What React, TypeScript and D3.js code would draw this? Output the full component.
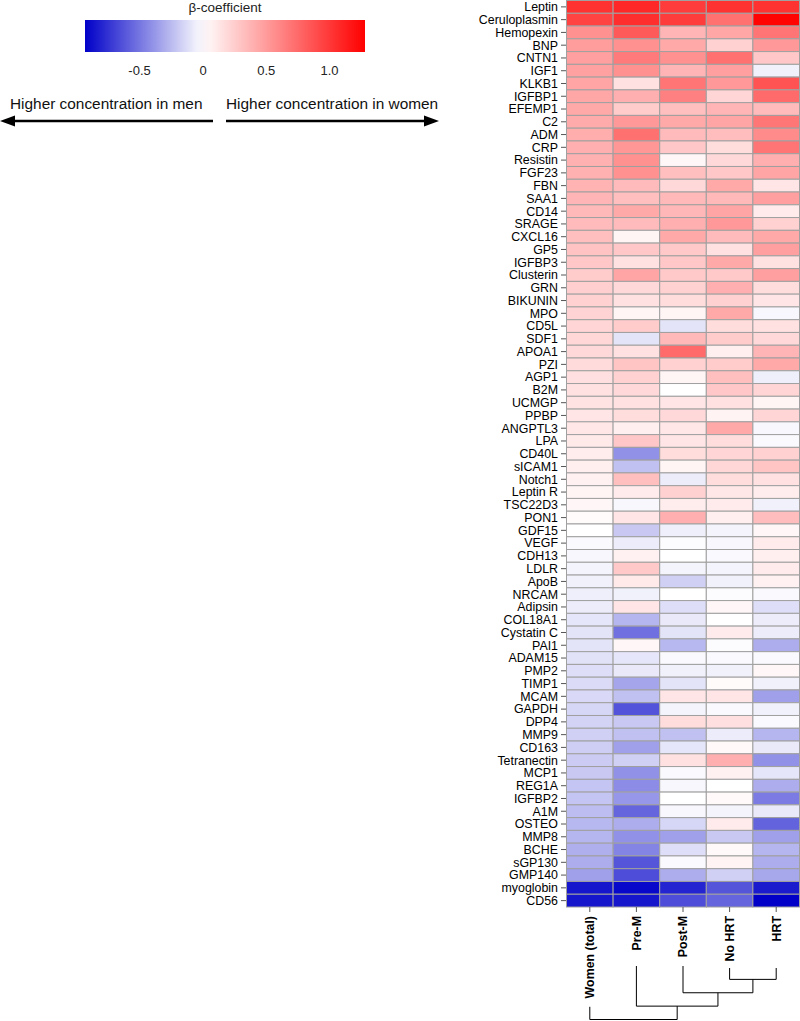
import React from "react";
import * as d3 from "d3";

const proteins = ["Leptin","Ceruloplasmin","Hemopexin","BNP","CNTN1","IGF1","KLKB1","IGFBP1","EFEMP1","C2","ADM","CRP","Resistin","FGF23","FBN","SAA1","CD14","SRAGE","CXCL16","GP5","IGFBP3","Clusterin","GRN","BIKUNIN","MPO","CD5L","SDF1","APOA1","PZI","AGP1","B2M","UCMGP","PPBP","ANGPTL3","LPA","CD40L","sICAM1","Notch1","Leptin R","TSC22D3","PON1","GDF15","VEGF","CDH13","LDLR","ApoB","NRCAM","Adipsin","COL18A1","Cystatin C","PAI1","ADAM15","PMP2","TIMP1","MCAM","GAPDH","DPP4","MMP9","CD163","Tetranectin","MCP1","REG1A","IGFBP2","A1M","OSTEO","MMP8","BCHE","sGP130","GMP140","myoglobin","CD56"];

const groups = ["Women (total)", "Pre-M", "Post-M", "No HRT", "HRT"];

const women = [1.03,0.95,0.55,0.49,0.48,0.47,0.45,0.44,0.43,0.42,0.41,0.40,0.39,0.39,0.38,0.37,0.35,0.34,0.32,0.30,0.28,0.26,0.24,0.23,0.22,0.21,0.20,0.19,0.18,0.16,0.15,0.14,0.13,0.12,0.11,0.09,0.08,0.07,0.05,0.04,0.02,0.00,-0.02,-0.03,-0.04,-0.05,-0.06,-0.07,-0.09,-0.10,-0.10,-0.11,-0.12,-0.13,-0.14,-0.15,-0.16,-0.17,-0.18,-0.19,-0.20,-0.21,-0.21,-0.24,-0.26,-0.27,-0.29,-0.30,-0.35,-0.85,-0.85];
const preM = [1.08,1.05,0.83,0.55,0.67,0.55,0.15,0.40,0.26,0.51,0.72,0.52,0.55,0.55,0.34,0.32,0.43,0.34,0.05,0.28,0.15,0.45,0.19,0.15,0.05,0.26,-0.10,0.15,0.29,0.23,0.19,0.15,0.17,0.08,0.28,-0.40,-0.23,0.32,0.10,-0.03,0.13,-0.20,-0.07,0.07,0.27,0.11,-0.05,0.13,-0.27,-0.52,0.04,-0.09,-0.08,-0.33,-0.23,-0.63,-0.20,-0.23,-0.35,-0.17,-0.40,-0.42,-0.38,-0.56,-0.30,-0.40,-0.45,-0.62,-0.65,-0.90,-0.85];
const postM = [0.98,0.98,0.37,0.43,0.55,0.37,0.70,0.64,0.32,0.43,0.34,0.28,0.04,0.32,0.19,0.35,0.36,0.40,0.43,0.27,0.28,0.27,0.23,0.17,0.05,-0.10,0.35,0.75,0.23,0.05,0.00,0.13,0.19,0.12,0.13,0.17,0.05,-0.07,0.23,0.09,0.40,-0.06,-0.01,0.00,-0.04,-0.17,0.00,-0.12,-0.08,-0.10,-0.26,-0.02,-0.05,-0.10,0.13,-0.04,0.17,-0.23,-0.09,0.15,-0.02,-0.03,0.00,-0.03,-0.15,-0.35,-0.12,-0.02,-0.30,-0.80,-0.65];
const noHRT = [1.03,0.72,0.44,0.23,0.72,0.48,0.51,0.21,0.37,0.45,0.33,0.17,0.19,0.28,0.43,0.35,0.45,0.51,0.34,0.15,0.43,0.27,0.40,0.23,0.43,0.17,0.26,0.08,0.26,0.32,0.28,0.15,0.06,0.43,0.17,0.21,0.20,0.17,0.12,0.10,0.08,-0.04,-0.03,-0.02,-0.04,-0.05,-0.01,0.04,0.00,0.10,-0.01,-0.02,-0.05,0.02,0.13,-0.02,0.16,-0.07,0.03,0.40,0.07,0.00,0.03,-0.04,0.10,-0.20,0.03,0.06,-0.17,-0.62,-0.56];
const hrt = [1.03,1.27,0.70,0.51,0.28,-0.05,0.87,0.75,0.34,0.69,0.58,0.70,0.40,0.45,0.13,0.48,0.10,0.23,0.43,0.48,0.15,0.48,0.17,0.13,-0.03,0.15,0.19,0.37,0.43,-0.06,0.21,0.05,0.21,-0.03,-0.02,0.23,0.29,0.15,0.09,-0.05,0.33,0.04,0.10,0.08,0.10,0.07,-0.02,-0.12,-0.07,-0.07,-0.30,-0.02,0.04,-0.05,-0.35,-0.05,-0.02,-0.27,-0.08,-0.40,-0.09,-0.30,-0.48,-0.08,-0.57,-0.35,-0.27,-0.30,-0.32,-0.83,-0.93];

const series = [women, preM, postM, noHRT, hrt];

const legendTicks = [-0.5, 0, 0.5, 1.0];
const legendTickLabels = ["-0.5", "0", "0.5", "1.0"];
const colorDomain = [-0.93, 0, 1.28];

// dendrogram: leaf heights and merges (children by leaf name or merge index)
const leafHeights = [3.05, 0, 0, 0.15, 0.15];
const merges: { a: string | number; b: string | number; h: number }[] = [
  { a: "No HRT", b: "HRT", h: 1 },
  { a: "Post-M", b: 0, h: 2 },
  { a: "Pre-M", b: 1, h: 3 },
  { a: "Women (total)", b: 2, h: 4 },
];

export default function App() {
  const W = 800, H = 1021;
  const color = d3.scaleLinear<string>().domain(colorDomain).range(["#0000c8", "#ffffff", "#ff0000"]).interpolate(d3.interpolateRgb).clamp(true);

  const hmLeft = 566.5, hmRight = 799.5, hmTop = 0.5, hmBottom = 907;
  const x = d3.scaleBand().domain(groups).range([hmLeft, hmRight]);
  const y = d3.scaleBand().domain(proteins).range([hmTop, hmBottom]);

  const lx = d3.scaleLinear().domain(colorDomain).range([85, 203, 365]);
  const legendStops = d3.range(0, 1.0001, 0.05).map((t) => {
    const v = colorDomain[0] + t * (colorDomain[2] - colorDomain[0]);
    return { offset: (lx(v) - 85) / (365 - 85), c: color(v) };
  });

  const dy = d3.scaleLinear().domain([0, 4]).range([966, 1019.5]);
  const nodeX: number[] = [];
  const xOf = (c: string | number) => (typeof c === "string" ? (x(c) as number) + x.bandwidth() / 2 : nodeX[c]);
  const hOf = (c: string | number) => (typeof c === "string" ? leafHeights[groups.indexOf(c)] : merges[c].h);
  const dendroPaths: string[] = [];
  merges.forEach((m, i) => {
    const xa = xOf(m.a), xb = xOf(m.b);
    nodeX[i] = (xa + xb) / 2;
    const p = d3.path();
    p.moveTo(xa, dy(hOf(m.a)));
    p.lineTo(xa, dy(m.h));
    p.lineTo(xb, dy(m.h));
    p.lineTo(xb, dy(hOf(m.b)));
    dendroPaths.push(p.toString());
  });

  const font = "Arial, 'Liberation Sans', Helvetica, sans-serif";

  return (
    <svg width={W} height={H} style={{ position: "absolute", left: 0, top: 0, background: "#fff" }} fontFamily={font}>
      <defs>
        <linearGradient id="lg" x1="0" x2="1" y1="0" y2="0">
          {legendStops.map((s, i) => (
            <stop key={i} offset={s.offset} stopColor={s.c} />
          ))}
        </linearGradient>
      </defs>
      {/* legend */}
      <text x={225} y={12} fontSize={13.5} textAnchor="middle" fill="#222">β-coefficient</text>
      <rect x={85} y={20} width={280} height={32} fill="url(#lg)" />
      {legendTicks.map((t, i) => (
        <text key={i} x={lx(t)} y={75} fontSize={13} textAnchor="middle" fill="#222">{legendTickLabels[i]}</text>
      ))}
      <text x={10} y={109} fontSize={15.4} fill="#111">Higher concentration in men</text>
      <text x={226} y={109} fontSize={15.4} fill="#111">Higher concentration in women</text>
      <line x1={213} y1={121} x2={12} y2={121} stroke="#000" strokeWidth={2.5} />
      <path d="M0,121 L15,115.5 L15,126.5 Z" fill="#000" />
      <line x1={226} y1={121} x2={425} y2={121} stroke="#000" strokeWidth={2.5} />
      <path d="M439,121 L424,115.5 L424,126.5 Z" fill="#000" />

      {/* heatmap cells */}
      {series.map((vals, ci) =>
        vals.map((v, ri) => (
          <rect key={ci + "-" + ri} x={x(groups[ci])} y={y(proteins[ri])} width={x.bandwidth()} height={y.bandwidth()} fill={color(v)} stroke="#a0a0a0" strokeWidth={1} />
        ))
      )}
      {/* row labels */}
      {proteins.map((p) => (
        <g key={p} transform={`translate(0,${(y(p) as number) + y.bandwidth() / 2})`}>
          <line x1={561} x2={566} y1={0} y2={0} stroke="#555" />
          <text x={558} dy="0.35em" fontSize={12.4} textAnchor="end" fill="#000">{p}</text>
        </g>
      ))}
      {/* column labels */}
      {groups.map((g) => {
        const cx = (x(g) as number) + x.bandwidth() / 2;
        return (
          <g key={g}>
            <line x1={cx} x2={cx} y1={907} y2={912} stroke="#555" />
            <text transform={`translate(${cx},916) rotate(-90)`} dy="0.35em" fontSize={12.4} fontWeight="bold" textAnchor="end" fill="#000">{g}</text>
          </g>
        );
      })}
      {/* dendrogram */}
      {dendroPaths.map((d, i) => (
        <path key={i} d={d} fill="none" stroke="#000" strokeWidth={1} />
      ))}
    </svg>
  );
}
